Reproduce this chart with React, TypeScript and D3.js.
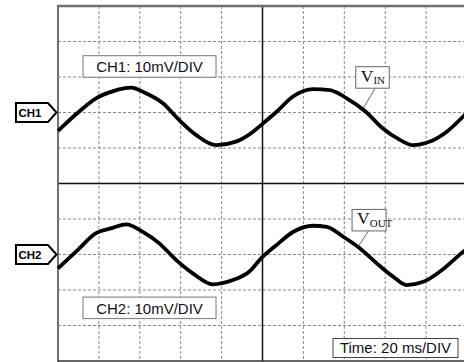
import React from "react";
import * as d3 from "d3";

// time in ms (20 ms/div), voltage in mV relative to the channel marker (10 mV/div)
const timeMs = [0, 8.8, 18.6, 27.4, 35.7, 43.0, 51.3, 59.2, 67.5, 77.3, 87.0, 95.4, 99.8, 106.9, 114.9, 124.7, 133.0, 141.2, 150.1, 158.9, 167.2, 173.6, 181.9, 190.1, 198.0, 200];
const vin = [-5.2, -0.5, 4.0, 6.1, 7.0, 5.4, 2.6, -2.1, -6.3, -9.2, -8.2, -5.4, -3.3, 0.2, 4.5, 6.6, 6.3, 4.0, 0.4, -4.5, -7.7, -9.2, -8.2, -5.4, -1.2, 0.0];
const timeMs2 = [0, 8.8, 18.6, 26.7, 33.3, 41.5, 49.4, 57.7, 65.9, 75.7, 85.5, 93.6, 99.3, 106.9, 115.1, 124.8, 131.4, 139.5, 147.7, 155.9, 164.0, 170.5, 178.6, 186.8, 198.2, 200];
const vout = [-3.9, 0.8, 6.0, 7.5, 8.5, 6.4, 3.2, -1.5, -5.3, -8.4, -7.2, -4.8, -1.1, 2.7, 6.4, 8.1, 7.8, 5.0, 1.7, -2.5, -6.3, -8.6, -7.7, -4.8, 0.8, 1.6];

const channelNames = ["CH1", "CH2"];
const channelOffsets = [20, -20]; // mV on screen
const scaleLabels = ["CH1: 10mV/DIV", "CH2: 10mV/DIV"];
const timeLabel = "Time: 20 ms/DIV";
const signalMain = ["V", "V"];
const signalSub = ["IN", "OUT"];

const xTicks = d3.range(0, 201, 20);
const yTicks = d3.range(-50, 51, 10);

export default function App() {
  const x = d3.scaleLinear().domain([0, 200]).range([58, 467]);
  const y = d3.scaleLinear().domain([-50, 50]).range([361, 6]);

  const mk = (ts: number[], vs: number[], off: number) =>
    d3
      .line<number>()
      .x((_, i) => x(ts[i]))
      .y((v) => y(v + off))
      .curve(d3.curveMonotoneX)(vs) || "";

  const traces = [mk(timeMs, vin, channelOffsets[0]), mk(timeMs2, vout, channelOffsets[1])];

  const markerPath = (cy: number) =>
    `M16,${cy - 9.5} L48,${cy - 9.5} L56.5,${cy} L48,${cy + 9.5} L16,${cy + 9.5} Z`;

  const scaleBoxY = [y(36), y(-32)];
  // signal label boxes (screen data units): box top-left, leader start/end
  const sigBox = [
    { bx: 145.6, by: 32.9, w: 33.5, lx1: 155.0, ly1: 26.8, lx2: 149.3, ly2: 21.2 },
    { bx: 143.8, by: -7.3, w: 34, lx1: 152.0, ly1: -13.2, lx2: 147.0, ly2: -17.6 },
  ];

  return (
    <svg
      width={464}
      height={362}
      style={{ position: "absolute", left: 0, top: 0, background: "#fff" }}
      fontFamily="'Liberation Sans', Arial, sans-serif"
    >
      <rect x={0} y={0} width={464} height={362} fill="#fff" />
      {/* grid */}
      {xTicks.slice(1, -1).map((t) =>
        t === 100 ? null : (
          <line key={"gx" + t} x1={x(t)} x2={x(t)} y1={y(50)} y2={y(-50)} stroke="#8a8a8a" strokeWidth={1} strokeDasharray="3,2" />
        )
      )}
      {yTicks.slice(1, -1).map((t) =>
        t === 0 ? null : (
          <line key={"gy" + t} x1={x(0)} x2={x(200)} y1={y(t)} y2={y(t)} stroke="#8a8a8a" strokeWidth={1} strokeDasharray="3,2" />
        )
      )}
      <line x1={x(100)} x2={x(100)} y1={y(50)} y2={y(-50)} stroke="#111" strokeWidth={1.5} />
      <line x1={x(0)} x2={x(200)} y1={y(0)} y2={y(0)} stroke="#111" strokeWidth={1.5} />
      {/* border */}
      <line x1={x(0)} x2={x(0)} y1={y(50) - 1} y2={y(-50) + 1} stroke="#707070" strokeWidth={2} />
      <line x1={x(0)} x2={x(200)} y1={y(50)} y2={y(50)} stroke="#707070" strokeWidth={2.5} />
      <line x1={x(0)} x2={x(200)} y1={y(-50)} y2={y(-50)} stroke="#333" strokeWidth={1.5} />
      <line x1={x(200)} x2={x(200)} y1={y(50)} y2={y(-50)} stroke="#707070" strokeWidth={2} />

      {/* traces */}
      {traces.map((d, i) => (
        <path key={"tr" + i} d={d} fill="none" stroke="#000" strokeWidth={3.8} strokeLinejoin="round" />
      ))}

      {/* scale labels */}
      {scaleLabels.map((s, i) => (
        <g key={"sl" + i}>
          <rect x={83} y={scaleBoxY[i]} width={133} height={21.5} fill="#fff" stroke="#777" strokeWidth={1} />
          <text x={149.5} y={scaleBoxY[i] + 16.5} fontSize={15} textAnchor="middle" fill="#111">
            {s}
          </text>
        </g>
      ))}
      <rect x={333} y={338.5} width={125} height={19} fill="#fff" stroke="#444" strokeWidth={1} />
      <text x={395.5} y={352.5} fontSize={15} textAnchor="middle" fill="#111">
        {timeLabel}
      </text>

      {/* signal labels */}
      {sigBox.map((b, i) => {
        const bx = x(b.bx);
        const by = y(b.by);
        return (
          <g key={"sb" + i}>
            <line x1={x(b.lx1)} y1={y(b.ly1)} x2={x(b.lx2)} y2={y(b.ly2)} stroke="#666" strokeWidth={1} />
            <rect x={bx} y={by} width={b.w} height={21.5} fill="#fff" stroke="#666" strokeWidth={1} />
            <text x={bx + 5} y={by + 15} fontFamily="'Liberation Serif', 'Times New Roman', serif" fill="#111">
              <tspan fontSize={17.5}>{signalMain[i]}</tspan>
              <tspan fontSize={11} dy={2.5}>{signalSub[i]}</tspan>
            </text>
          </g>
        );
      })}

      {/* channel markers */}
      {channelNames.map((n, i) => {
        const cy = y(channelOffsets[i]);
        return (
          <g key={"cm" + i}>
            <path d={markerPath(cy)} fill="#fff" stroke="#000" strokeWidth={2} strokeLinejoin="miter" />
            <text x={30} y={cy + 4} fontSize={11.5} fontWeight="bold" textAnchor="middle" fill="#000">
              {n}
            </text>
          </g>
        );
      })}
    </svg>
  );
}
